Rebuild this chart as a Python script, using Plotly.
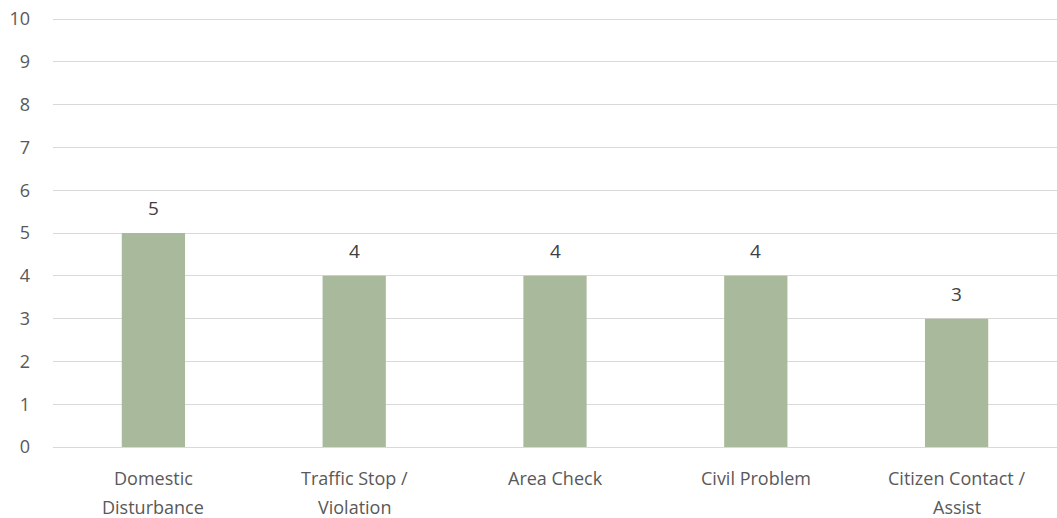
import plotly.graph_objects as go

categories = ["Domestic Disturbance", "Traffic Stop / Violation", "Area Check", "Civil Problem", "Citizen Contact / Assist"]
label_lines = [["Domestic", "Disturbance"], ["Traffic Stop /", "Violation"], ["Area Check"], ["Civil Problem"], ["Citizen Contact /", "Assist"]]
values = [5, 4, 4, 4, 3]

FONT = "Open Sans"
TXT = "#595959"

fig = go.Figure()
fig.add_trace(go.Bar(
    x=categories, y=values,
    marker=dict(color="#A9B99C", line=dict(width=0)),
    width=0.315,
))

for c, v in zip(categories, values):
    fig.add_annotation(x=c, y=v, xref="x", yref="y", text=str(v), showarrow=False,
                       yanchor="middle", yshift=25, font=dict(family=FONT, size=19, color="#404040"))

for c, lines in zip(categories, label_lines):
    for i, line in enumerate(lines):
        fig.add_annotation(x=c, y=0, xref="x", yref="paper", text=line, showarrow=False,
                           yanchor="middle", yshift=-31 - 29 * i,
                           font=dict(family=FONT, size=18, color=TXT))

fig.update_layout(
    width=1057, height=518,
    margin=dict(l=53, r=0, t=17, b=71),
    paper_bgcolor="white", plot_bgcolor="white",
    showlegend=False,
    font=dict(family=FONT, size=18, color=TXT),
    xaxis=dict(showgrid=False, showline=False, ticks="", showticklabels=False, automargin=False),
    yaxis=dict(range=[0, 10.05], dtick=1, tick0=0, showgrid=True, gridcolor="#D9D9D9", gridwidth=1.3,
               zeroline=True, zerolinecolor="#D9D9D9", zerolinewidth=1.3, automargin=False,
               ticks="", ticklabelstandoff=22, tickfont=dict(size=18, color=TXT)),
)

fig.write_html("out.html", config={"displayModeBar": False},
               post_script="document.body.style.margin='0';document.body.style.overflow='hidden';")
